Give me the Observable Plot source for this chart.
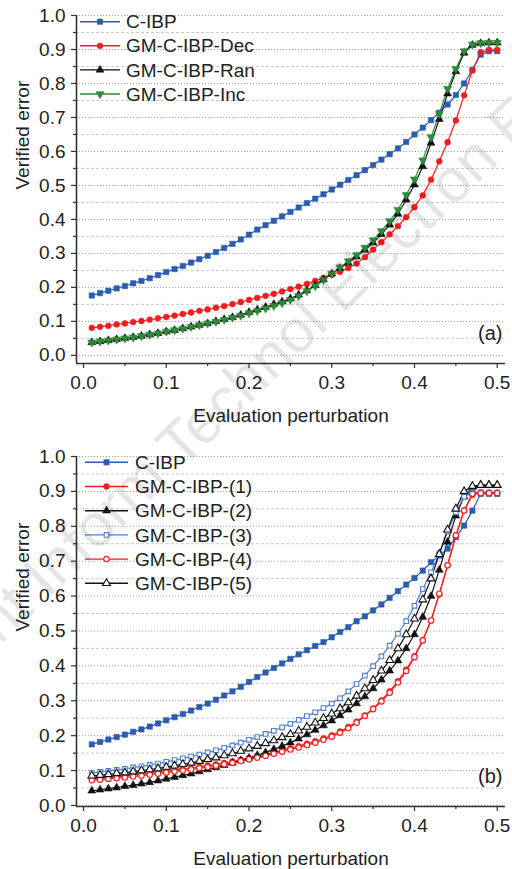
<!DOCTYPE html>
<html><head><meta charset="utf-8">
<script src="https://cdn.jsdelivr.net/npm/d3@7"></script>
<script src="https://cdn.jsdelivr.net/npm/@observablehq/plot@0.6"></script>
<style>
body{margin:0;background:#fff;font-family:"Liberation Sans",Arial,sans-serif;}
#wrap{position:relative;width:512px;height:869px;overflow:hidden;background:#fff}
#wrap svg{display:block}
#wm{position:absolute;left:0;top:0;pointer-events:none}
</style></head><body><div id="wrap"></div>
<script>
// ---------- data ----------
const xs = [0.01,0.02,0.03,0.04,0.05,0.06,0.07,0.08,0.09,0.10,0.11,0.12,0.13,0.14,0.15,0.16,0.17,0.18,0.19,0.20,0.21,0.22,0.23,0.24,0.25,0.26,0.27,0.28,0.29,0.30,0.31,0.32,0.33,0.34,0.35,0.36,0.37,0.38,0.39,0.40,0.41,0.42,0.43,0.44,0.45,0.46,0.47,0.48,0.49,0.50];

// panel (a)
const cibpA = [.176,.183,.190,.197,.204,.212,.219,.227,.236,.245,.254,.263,.273,.283,.293,.304,.316,.328,.341,.355,.370,.383,.396,.409,.422,.435,.448,.461,.474,.488,.502,.516,.530,.545,.560,.576,.592,.609,.628,.650,.670,.692,.714,.738,.766,.800,.840,.885,.895,.895];
const decA = [.081,.084,.087,.091,.094,.098,.101,.105,.109,.113,.117,.122,.126,.131,.135,.140,.145,.151,.157,.163,.169,.175,.181,.188,.195,.202,.210,.219,.228,.237,.246,.257,.270,.289,.311,.333,.356,.380,.407,.436,.471,.517,.571,.627,.691,.765,.838,.892,.899,.899];
const ranA = [.038,.041,.044,.047,.050,.053,.057,.061,.065,.070,.074,.079,.084,.089,.094,.100,.106,.112,.119,.127,.134,.142,.150,.158,.167,.178,.191,.206,.223,.240,.256,.272,.290,.310,.331,.356,.384,.416,.458,.502,.556,.625,.695,.770,.835,.890,.913,.918,.920,.920];
const incA = [.038,.041,.044,.047,.050,.053,.057,.061,.065,.070,.074,.079,.084,.089,.094,.099,.105,.111,.117,.124,.131,.138,.146,.154,.163,.175,.189,.204,.222,.240,.259,.277,.295,.317,.339,.366,.395,.428,.472,.518,.574,.642,.711,.784,.843,.895,.915,.919,.920,.920];

// panel (b)
const cibpB = [.175,.182,.189,.196,.203,.211,.218,.226,.235,.244,.253,.262,.272,.282,.292,.303,.315,.327,.340,.354,.368,.381,.394,.407,.420,.433,.445,.457,.468,.482,.497,.511,.528,.542,.559,.576,.595,.614,.633,.652,.673,.697,.716,.736,.769,.802,.845,.893,.893,.893];
const gm1 = [.076,.078,.080,.082,.084,.087,.089,.092,.095,.098,.101,.104,.107,.111,.114,.118,.122,.126,.131,.136,.141,.146,.152,.158,.164,.170,.177,.184,.192,.201,.212,.225,.240,.258,.278,.301,.327,.356,.389,.428,.474,.530,.605,.688,.772,.845,.890,.897,.897,.897];
const gm2 = [.042,.045,.048,.051,.055,.058,.062,.066,.071,.076,.081,.086,.091,.097,.103,.109,.115,.122,.129,.136,.144,.152,.161,.170,.180,.191,.203,.216,.229,.243,.258,.274,.292,.312,.335,.360,.386,.415,.450,.490,.540,.600,.675,.755,.830,.885,.912,.918,.918,.918];
const gm3 = [.093,.096,.099,.102,.105,.109,.112,.116,.120,.125,.130,.135,.140,.146,.152,.158,.165,.172,.180,.188,.196,.205,.214,.224,.234,.245,.256,.267,.279,.292,.307,.327,.348,.372,.399,.427,.458,.492,.528,.572,.620,.668,.722,.785,.840,.885,.897,.897,.896,.896];
const gm4 = [.072,.074,.076,.078,.080,.083,.085,.088,.091,.094,.097,.100,.103,.107,.110,.114,.118,.122,.127,.132,.137,.142,.148,.154,.160,.166,.173,.180,.188,.197,.208,.221,.237,.256,.276,.298,.323,.352,.385,.425,.473,.530,.607,.688,.774,.845,.893,.895,.895,.895];
const gm5 = [.085,.087,.089,.092,.094,.097,.100,.103,.106,.110,.114,.118,.122,.127,.132,.137,.143,.149,.156,.163,.170,.178,.186,.195,.204,.214,.225,.237,.250,.263,.278,.295,.314,.335,.359,.386,.416,.450,.490,.535,.590,.650,.720,.790,.850,.900,.915,.918,.918,.918];

const namesA = ["C-IBP","GM-C-IBP-Dec","GM-C-IBP-Ran","GM-C-IBP-Inc"];
const namesB = ["C-IBP","GM-C-IBP-(1)","GM-C-IBP-(2)","GM-C-IBP-(3)","GM-C-IBP-(4)","GM-C-IBP-(5)"];

const yTicks = [0,0.1,0.2,0.3,0.4,0.5,0.6,0.7,0.8,0.9,1.0];
const yMinor = [0.05,0.15,0.25,0.35,0.45,0.55,0.65,0.75,0.85,0.95];
const xTicks = [0,0.1,0.2,0.3,0.4,0.5];
const xMinor = [0.05,0.15,0.25,0.35,0.45];

// ---------- styles ----------
const BLUE="#2a5db0", BLUE2="#4f7fcc", RED="#f21e1e", BLACK="#111", GREEN="#2e8a3b";
const stylesA = [
  {c:BLUE, sym:"square", fill:BLUE, rot:0, r:3},
  {c:RED, sym:"circle", fill:RED, rot:0, r:2.9},
  {c:BLACK, sym:"triangle", fill:BLACK, rot:0, r:2.9},
  {c:GREEN, sym:"triangle", fill:GREEN, rot:180, r:3}
];
const stylesB = [
  {c:BLUE, sym:"square", fill:BLUE, rot:0, r:3},
  {c:RED, sym:"circle", fill:RED, rot:0, r:2.9},
  {c:BLACK, sym:"triangle", fill:BLACK, rot:0, r:2.9},
  {c:BLUE2, sym:"square", fill:"white", rot:0, r:2.6},
  {c:RED, sym:"circle", fill:"white", rot:0, r:2.7},
  {c:BLACK, sym:"triangle", fill:"white", rot:0, r:2.9}
];

const FONT = '"Liberation Sans", Arial, sans-serif';
const FS = 19;
const fmt = d3.format(".1f");

function panel(opts){
  const {names, values, styles, height, marginTop, marginBottom, yDomain, tag, legend, titleDy} = opts;
  const xDomain = [-0.0085, 0.51];
  const marks = [
    Plot.ruleY(yMinor, {stroke:"#c4c4c4", strokeWidth:0.9, strokeDasharray:"3,2"}),
    Plot.ruleY(yTicks, {stroke:"#9a9a9a", strokeWidth:0.9, strokeDasharray:"1.2,1.8"}),
    Plot.axisY(yTicks, {tickFormat:fmt, tickSize:5, tickPadding:6, fontSize:FS, stroke:"#333", strokeWidth:1.2, fill:"#222", label:null}),
    Plot.axisY(yMinor, {tickFormat:()=>"", tickSize:3, stroke:"#333", strokeWidth:1.2, label:null}),
    Plot.axisX(xTicks, {tickFormat:fmt, tickSize:5, tickPadding:7, fontSize:FS, stroke:"#333", strokeWidth:1.2, fill:"#222", label:null}),
    Plot.axisX(xMinor, {tickFormat:()=>"", tickSize:3, stroke:"#333", strokeWidth:1.2, label:null}),
    Plot.ruleX([xDomain[0]], {stroke:"#333", strokeWidth:1.6}),
    Plot.ruleY([yDomain[0]], {stroke:"#333", strokeWidth:1.6}),
    Plot.text(["Verified error"], {frameAnchor:"left", rotate:-90, dx:-54, fontSize:FS, fill:"#222"}),
    Plot.text(["Evaluation perturbation"], {frameAnchor:"bottom", dy:titleDy, fontSize:FS, fill:"#222"}),
    Plot.text([tag], {frameAnchor:"bottom-right", dx:-3, dy:-24, fontSize:20, fill:"#222", textAnchor:"end"})
  ];
  names.forEach((n,i)=>{
    const data = xs.map((x,j)=>({x, y: values[i][j]}));
    const s = styles[i];
    marks.push(Plot.line(data,{x:"x", y:"y", stroke:s.c, strokeWidth:1.2}));
  });
  names.forEach((n,i)=>{
    const data = xs.map((x,j)=>({x, y: values[i][j]}));
    const s = styles[i];
    marks.push(Plot.dot(data,{x:"x", y:"y", symbol:s.sym, r:s.r, fill:s.fill, stroke:s.c, strokeWidth:s.fill==="white"?1.1:0.6, rotate:s.rot}));
  });
  const chart = Plot.plot({
    width:512, height, marginLeft:76, marginRight:7, marginTop, marginBottom,
    x:{domain:xDomain}, y:{domain:yDomain},
    style:{fontFamily:FONT, fontSize:FS+"px", color:"#333", background:"transparent", overflow:"visible"},
    marks
  });
  // legend
  const svg = d3.select(chart);
  const g = svg.append("g").attr("font-family", FONT).attr("font-size", FS).attr("text-anchor","start");
  names.forEach((n,i)=>{
    const s = styles[i];
    const yy = legend.y0 + i*legend.dy;
    g.append("line").attr("x1",legend.x1).attr("x2",legend.x2).attr("y1",yy).attr("y2",yy)
      .attr("stroke",s.c).attr("stroke-width",1.4);
    const symType = s.sym==="square"?d3.symbolSquare:(s.sym==="circle"?d3.symbolCircle:d3.symbolTriangle);
    g.append("path").attr("d", d3.symbol(symType, Math.PI*s.r*s.r)())
      .attr("transform",`translate(${(legend.x1+legend.x2)/2},${yy}) rotate(${s.rot})`)
      .attr("fill",s.fill).attr("stroke",s.c).attr("stroke-width",s.fill==="white"?1.1:0.6);
    g.append("text").attr("x",legend.tx).attr("y",yy).attr("dy","0.35em").attr("fill","#222").text(n);
  });
  return chart;
}

const wrap = document.getElementById("wrap");
wrap.appendChild(panel({
  names:namesA, values:[cibpA,decA,ranA,incA], styles:stylesA,
  height:425, marginTop:15, marginBottom:62, yDomain:[-0.024,1.0], tag:"(a)", titleDy:58,
  legend:{x1:80, x2:120, tx:126, y0:21.7, dy:24.1}
}));
wrap.appendChild(panel({
  names:namesB, values:[cibpB,gm1,gm2,gm3,gm4,gm5], styles:stylesB,
  height:444, marginTop:31, marginBottom:63, yDomain:[-0.003,1.0], tag:"(b)", titleDy:58,
  legend:{x1:85, x2:128, tx:135, y0:37.3, dy:24.2}
}));

// watermark
const wm = d3.select(wrap).append("svg").attr("id","wm").attr("width",512).attr("height",869);
wm.append("text").attr("x",0).attr("y",0)
  .attr("transform","translate(262,392) rotate(-44)")
  .attr("text-anchor","middle").attr("font-family",FONT).attr("font-size",60)
  .attr("fill","#000").attr("fill-opacity",0.1)
  .text("Front Inform Technol Electron Eng");
</script></body></html>
